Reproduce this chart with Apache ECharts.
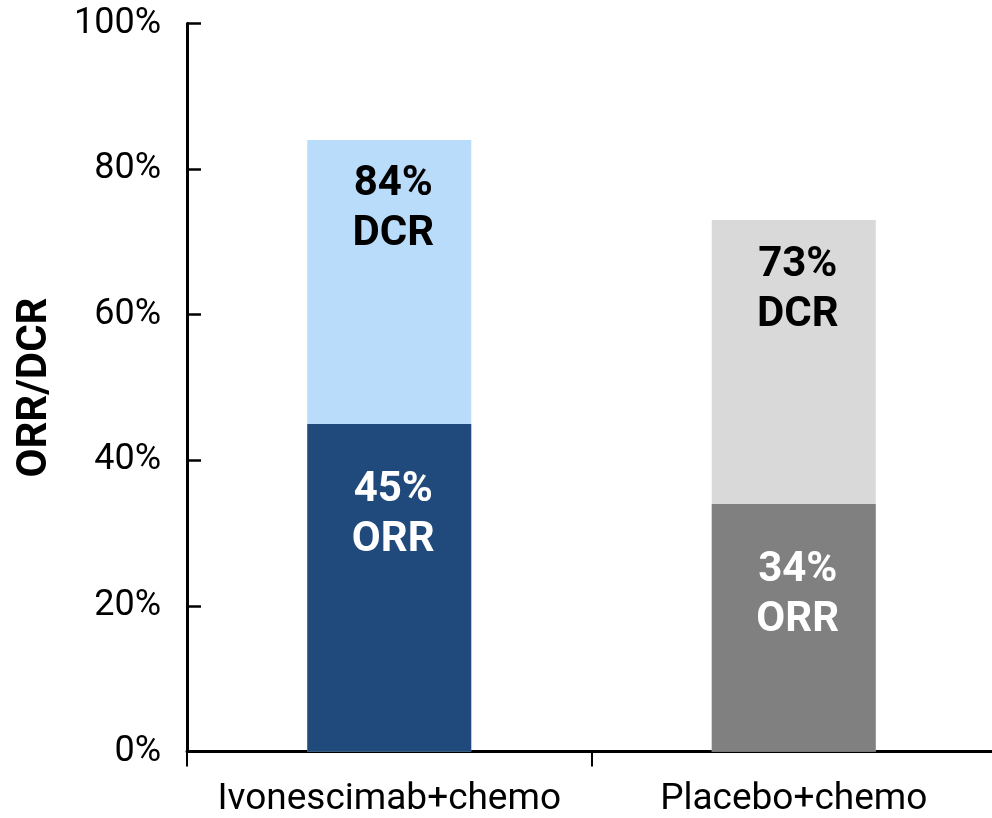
<!DOCTYPE html>
<html>
<head>
<meta charset="utf-8">
<script src="https://cdn.jsdelivr.net/npm/echarts@6/dist/echarts.min.js"></script>
<style>
  html, body { margin: 0; padding: 0; background: #ffffff; }
  #chart { width: 992px; height: 818px; }
</style>
</head>
<body>
<div id="chart"></div>
<script>
// Treatment arms shown on the x axis
const categories = ['Ivonescimab+chemo', 'Placebo+chemo'];
// Disease control rate (%) per arm
const dcrValues = [84, 73];
// Objective response rate (%) per arm
const orrValues = [45, 34];
// Y axis ticks (%)
const yTicks = [0, 20, 40, 60, 80, 100];

const dcrColors = ['#B9DCFA', '#D9D9D9'];
const orrColors = ['#214A7C', '#808080'];

const FONT = 'Roboto';

const chart = echarts.init(document.getElementById('chart'), null, { renderer: 'canvas' });

chart.setOption({
  animation: false,
  backgroundColor: '#ffffff',
  grid: {
    left: 187, top: 23.5, width: 809, height: 728,
    containLabel: false,
    outerBoundsMode: 'none'
  },
  xAxis: {
    type: 'category',
    data: categories,
    axisLine: { lineStyle: { color: '#000', width: 3 } },
    axisTick: { show: true, alignWithLabel: false, length: 15, lineStyle: { color: '#000', width: 2 } },
    axisLabel: { color: '#000', fontFamily: FONT, fontSize: 37, margin: 30, interval: 0, hideOverlap: false }
  },
  yAxis: {
    type: 'value',
    min: yTicks[0],
    max: yTicks[yTicks.length - 1],
    interval: yTicks[1] - yTicks[0],
    name: 'ORR/DCR',
    nameLocation: 'middle',
    nameGap: 131,
    nameRotate: 90,
    nameTextStyle: { color: '#000', fontFamily: FONT, fontWeight: 'bold', fontSize: 42 },
    axisLine: { show: true, lineStyle: { color: '#000', width: 3 } },
    axisTick: { show: true, inside: true, length: 14, lineStyle: { color: '#000', width: 2.5 } },
    splitLine: { show: false },
    axisLabel: { color: '#000', fontFamily: FONT, fontSize: 36, margin: 26, formatter: '{value}%' }
  },
  series: [
    {
      name: 'DCR',
      type: 'bar',
      barWidth: 164,
      barGap: '-100%',
      data: dcrValues.map((v, i) => ({ value: v, itemStyle: { color: dcrColors[i] } })),
      label: {
        show: true,
        position: 'insideTop',
        distance: 20,
        offset: [4, 0],
        color: '#000',
        fontFamily: FONT,
        fontWeight: 'bold',
        fontSize: 42,
        lineHeight: 50,
        align: 'center',
        formatter: p => p.value + '%\nDCR'
      }
    },
    {
      name: 'ORR',
      type: 'bar',
      barWidth: 164,
      barGap: '-100%',
      z: 3,
      data: orrValues.map((v, i) => ({ value: v, itemStyle: { color: orrColors[i] } })),
      label: {
        show: true,
        position: 'insideTop',
        distance: 42,
        offset: [4, 0],
        color: '#fff',
        fontFamily: FONT,
        fontWeight: 'bold',
        fontSize: 42,
        lineHeight: 50,
        align: 'center',
        formatter: p => p.value + '%\nORR'
      }
    }
  ]
});
</script>
</body>
</html>
